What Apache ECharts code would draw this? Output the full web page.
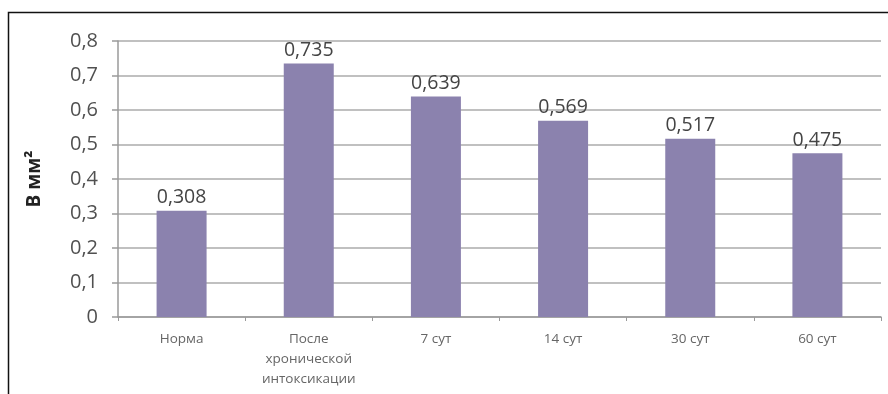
<!DOCTYPE html>
<html>
<head>
<meta charset="utf-8">
<script src="https://cdn.jsdelivr.net/npm/echarts@6/dist/echarts.min.js"></script>
<style>html,body{margin:0;padding:0;background:#fff}#c{width:888px;height:394px}</style>
</head>
<body>
<div id="c"></div>
<script>
var categories = ['Норма', 'После\nхронической\nинтоксикации', '7 сут', '14 сут', '30 сут', '60 сут'];
var values = [0.308, 0.735, 0.639, 0.569, 0.517, 0.475];
var yTitle = 'В мм²';

var chart = echarts.init(document.getElementById('c'), null, {renderer: 'canvas'});
var fmt = function (v) { return String(v).replace('.', ','); };
chart.setOption({
  animation: false,
  backgroundColor: '#fff',
  graphic: [{
    type: 'rect', shape: {x: 8.5, y: 12.5, width: 900, height: 400},
    style: {fill: 'none', stroke: '#111', lineWidth: 1.5}, silent: true
  }],
  grid: {left: 118, right: 7, top: 41, bottom: 77},
  xAxis: {
    type: 'category', data: categories,
    axisLine: {lineStyle: {color: '#9a9a9a', width: 1.5}},
    axisTick: {show: true, length: 4, lineStyle: {color: '#9a9a9a'}},
    axisLabel: {color: '#666', fontSize: 13.5, fontFamily: 'Open Sans', lineHeight: 20, margin: 12, interval: 0}
  },
  yAxis: {
    type: 'value', min: 0, max: 0.8, interval: 0.1,
    name: yTitle, nameLocation: 'middle', nameGap: 74, nameRotate: 90,
    nameTextStyle: {fontSize: 19, fontWeight: 'bold', color: '#222', fontFamily: 'Open Sans'},
    axisLine: {show: true, lineStyle: {color: '#9a9a9a', width: 1.5}},
    axisTick: {show: true, length: 6, lineStyle: {color: '#9a9a9a', width: 1.5}},
    splitLine: {lineStyle: {color: '#ababab', width: 1.5}},
    axisLabel: {color: '#505050', fontSize: 20, fontFamily: 'Open Sans', margin: 20,
      formatter: function (v) { return v === 0 ? '0' : fmt(+v.toFixed(1)); }}
  },
  series: [{
    type: 'bar', data: values, barWidth: 50,
    itemStyle: {color: '#8b82ae'},
    label: {show: true, position: 'top', distance: 3, color: '#444', fontSize: 19.5, fontFamily: 'Open Sans',
      formatter: function (p) { return fmt(p.value); }}
  }]
});
</script>
</body>
</html>
